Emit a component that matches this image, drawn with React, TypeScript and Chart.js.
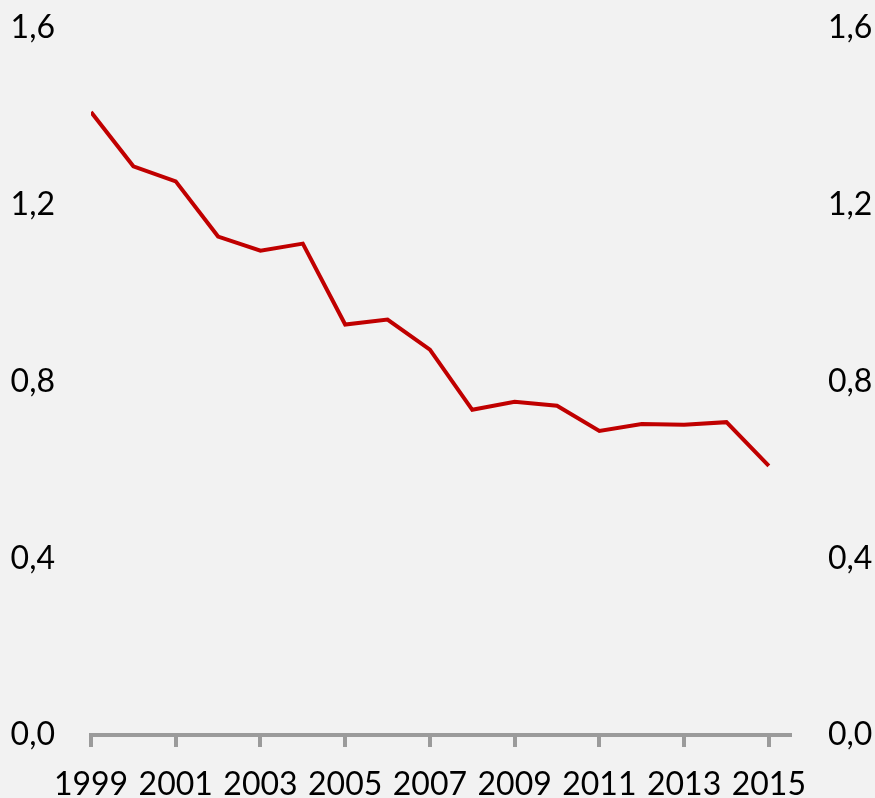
import React, { useEffect, useRef } from "react";
import { Chart, registerables } from "chart.js";

Chart.register(...registerables);

const years = [1999, 2000, 2001, 2002, 2003, 2004, 2005, 2006, 2007, 2008, 2009, 2010, 2011, 2012, 2013, 2014, 2015];
const values = [1.410, 1.287, 1.253, 1.128, 1.096, 1.112, 0.929, 0.940, 0.872, 0.736, 0.754, 0.745, 0.688, 0.704, 0.702, 0.708, 0.609];
const xTickYears = [1999, 2001, 2003, 2005, 2007, 2009, 2011, 2013, 2015];
const yTicks = [0, 0.4, 0.8, 1.2, 1.6];

const FONT = { family: "Lato", size: 32 };
const AXIS_GRAY = "#9b9b9b";

export default function App() {
  const ref = useRef<HTMLCanvasElement | null>(null);

  useEffect(() => {
    document.body.style.background = "#f2f2f2";
    document.body.style.margin = "0";
    document.body.style.overflow = "hidden";
    const canvas = ref.current!;
    const fmt = (v: number) => v.toFixed(1).replace(".", ",");
    const yCommon = {
      min: 0,
      max: 1.6,
      border: { display: false },
      afterBuildTicks: (axis: any) => {
        axis.ticks = yTicks.map((v) => ({ value: v }));
      },
    };
    const chart = new Chart(canvas, {
      type: "line",
      data: {
        datasets: [
          {
            data: years.map((y, i) => ({ x: y, y: values[i] })),
            borderColor: "#c00000",
            borderWidth: 4,
            pointRadius: 0,
            tension: 0,
            fill: false,
            yAxisID: "y",
          },
        ],
      },
      options: {
        animation: false,
        responsive: true,
        maintainAspectRatio: false,
        layout: { autoPadding: false, padding: { top: 28, bottom: 0, left: 0, right: 0 } },
        plugins: { legend: { display: false }, tooltip: { enabled: false } },
        scales: {
          x: {
            type: "linear",
            min: 1999,
            max: 2015.5,
            afterBuildTicks: (axis: any) => {
              axis.ticks = xTickYears.map((v) => ({ value: v }));
            },
            afterFit: (axis: any) => {
              axis.height = 63;
            },
            grid: {
              display: true,
              drawOnChartArea: false,
              drawTicks: true,
              tickLength: 12,
              lineWidth: 4,
              color: AXIS_GRAY,
            },
            border: { display: true, width: 4, color: AXIS_GRAY },
            ticks: {
              autoSkip: false,
              maxRotation: 0,
              padding: 18,
              color: "#000",
              font: FONT,
              callback: (v: any) => String(v),
            },
          },
          y: {
            ...yCommon,
            position: "left",
            grid: { display: false, drawTicks: true, tickLength: 36 },
            afterFit: (axis: any) => {
              axis.width = 91;
            },
            ticks: { color: "#000", font: FONT, padding: 0, callback: (v: any) => fmt(Number(v)) },
          },
          y2: {
            ...yCommon,
            position: "right",
            grid: { display: false, drawTicks: true, tickLength: 38 },
            afterFit: (axis: any) => {
              axis.width = 85;
            },
            ticks: { color: "#000", font: FONT, padding: 0, callback: (v: any) => fmt(Number(v)) },
          },
        },
      },
    } as any);
    return () => chart.destroy();
  }, []);

  return (
    <div style={{ position: "relative", width: 875, height: 798 }}>
      <canvas ref={ref} />
    </div>
  );
}
